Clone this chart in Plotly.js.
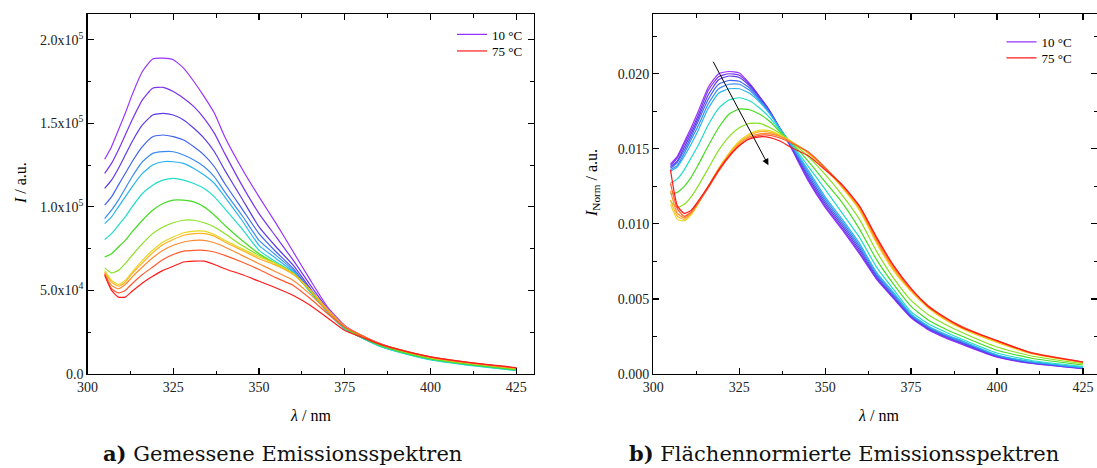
<!DOCTYPE html>
<html>
<head>
<meta charset="utf-8">
<script src="https://cdn.plot.ly/plotly-3.0.1.min.js"></script>
<style>html,body{margin:0;padding:0;background:#fff;}#chart{width:1097px;height:468px;}</style>
</head>
<body>
<div id="chart"></div>
<script>
// ---------- DATA ----------
const wavelength = [305, 307, 309, 311, 313, 316, 319, 322, 325, 328, 331, 334, 337, 340, 345, 350, 355, 360, 365, 370, 375, 380, 385, 390, 400, 410, 425];
const temperatures = [10, 15, 20, 25, 30, 35, 40, 45, 50, 55, 60, 65, 70, 75];

// a) measured emission intensity I (a.u.)
const I_10 = [128500, 136000, 146000, 156000, 167000, 181000, 188500, 189000, 188000, 183000, 175000, 166000, 156000, 142000, 123000, 106000, 90000, 73000, 56000, 40000, 29000, 23000, 18500, 15000, 10000, 6800, 3300];
const I_15 = [120000, 126000, 134000, 143000, 152000, 164000, 171000, 171500, 169000, 165000, 160000, 153000, 144000, 132000, 113000, 96000, 82000, 68000, 53000, 39000, 28000, 22500, 18000, 14500, 9700, 6600, 3200];
const I_20 = [111000, 116000, 123000, 131000, 139000, 149000, 155000, 156000, 155000, 152000, 147000, 141000, 133000, 122000, 105000, 88000, 76000, 65000, 51000, 38000, 27500, 22000, 17500, 14200, 9500, 6400, 3000];
const I_25 = [101000, 106000, 113000, 120000, 127000, 136000, 142000, 143000, 142000, 140000, 136000, 131000, 124000, 114000, 99000, 84000, 73000, 63000, 50000, 37500, 27000, 22000, 17200, 14000, 9200, 6200, 2800];
const I_30 = [93000, 98000, 104000, 111000, 118000, 127000, 132000, 133000, 133000, 131000, 128000, 124000, 118000, 109000, 95000, 80000, 71000, 62000, 49500, 37000, 27000, 21500, 17000, 13800, 9000, 6000, 2600];
const I_35 = [90000, 94000, 100000, 106000, 112000, 120000, 125000, 127000, 127000, 126000, 123000, 119000, 114000, 106000, 92000, 77000, 69000, 61000, 49000, 37000, 27000, 21500, 16800, 13600, 8700, 5800, 2200];
const I_40 = [80500, 84000, 89000, 94000, 100000, 108000, 113000, 116000, 117000, 116000, 114000, 111000, 106000, 99000, 87000, 74000, 67000, 60500, 49000, 37000, 27000, 21500, 16800, 13500, 8400, 5500, 2000];
const I_45 = [70000, 72000, 76000, 80000, 85000, 92000, 98000, 102000, 104000, 104000, 103000, 100000, 95000, 89000, 80000, 72000, 66000, 60000, 49500, 37500, 27500, 22000, 17200, 14000, 9000, 6000, 2500];
const I_50 = [63500, 60500, 62000, 66000, 71000, 78000, 84000, 88000, 90500, 92000, 92000, 90500, 88000, 84000, 77000, 71000, 66000, 60000, 50000, 38000, 28000, 22500, 17800, 14500, 9500, 6500, 3000];
const I_55 = [62000, 56000, 53500, 56000, 61000, 68000, 74000, 79000, 82000, 84500, 85500, 85500, 83500, 80000, 75000, 70000, 66000, 60000, 50000, 38500, 28500, 23000, 18200, 15000, 10000, 7000, 3400];
const I_60 = [61000, 55000, 52500, 55000, 60000, 66500, 72500, 77500, 80500, 83000, 84000, 84000, 82500, 79000, 74000, 69000, 65000, 59500, 50000, 38500, 28500, 23000, 18200, 15000, 10000, 7000, 3400];
const I_65 = [60000, 53000, 51000, 53500, 58000, 64000, 69500, 74000, 77000, 79000, 80000, 80000, 78500, 76000, 71000, 66000, 61000, 56000, 47500, 37500, 28500, 23000, 18200, 15000, 10000, 7000, 3500];
const I_70 = [60000, 51000, 48500, 50000, 54000, 59500, 64000, 68500, 71500, 73500, 74000, 74000, 73000, 71000, 67000, 62500, 57500, 53000, 45000, 36000, 28000, 23000, 18200, 15000, 10200, 7200, 3600];
const I_75 = [59000, 50000, 46000, 46000, 49500, 54500, 58500, 62000, 64500, 67000, 67500, 67500, 65500, 63000, 59500, 55500, 51500, 47000, 41000, 33500, 26000, 22000, 18000, 15000, 10200, 7200, 3800];

// b) area-normalised emission intensity I_Norm (a.u.)
const N_10 = [0.01400, 0.01450, 0.01545, 0.01640, 0.01745, 0.01910, 0.02000, 0.02015, 0.02005, 0.01935, 0.01845, 0.01745, 0.01630, 0.01510, 0.01290, 0.01110, 0.00960, 0.00800, 0.00630, 0.00500, 0.00375, 0.00295, 0.00240, 0.00195, 0.00112, 0.00070, 0.00035];
const N_15 = [0.01390, 0.01440, 0.01530, 0.01620, 0.01720, 0.01890, 0.01980, 0.02000, 0.01990, 0.01930, 0.01845, 0.01750, 0.01630, 0.01515, 0.01300, 0.01120, 0.00970, 0.00810, 0.00635, 0.00505, 0.00380, 0.00300, 0.00245, 0.00200, 0.00115, 0.00072, 0.00037];
const N_20 = [0.01380, 0.01420, 0.01510, 0.01600, 0.01700, 0.01860, 0.01960, 0.01985, 0.01975, 0.01920, 0.01840, 0.01745, 0.01630, 0.01520, 0.01315, 0.01135, 0.00985, 0.00825, 0.00645, 0.00510, 0.00385, 0.00305, 0.00250, 0.00205, 0.00120, 0.00075, 0.00038];
const N_25 = [0.01370, 0.01410, 0.01490, 0.01580, 0.01680, 0.01830, 0.01930, 0.01955, 0.01950, 0.01905, 0.01830, 0.01740, 0.01630, 0.01525, 0.01330, 0.01150, 0.01000, 0.00840, 0.00655, 0.00520, 0.00390, 0.00310, 0.00255, 0.00210, 0.00122, 0.00077, 0.00040];
const N_30 = [0.01360, 0.01390, 0.01470, 0.01560, 0.01650, 0.01800, 0.01900, 0.01930, 0.01930, 0.01890, 0.01820, 0.01735, 0.01630, 0.01530, 0.01345, 0.01165, 0.01015, 0.00855, 0.00665, 0.00530, 0.00395, 0.00315, 0.00260, 0.00215, 0.00125, 0.00080, 0.00042];
const N_35 = [0.01350, 0.01380, 0.01450, 0.01530, 0.01620, 0.01770, 0.01870, 0.01900, 0.01900, 0.01870, 0.01810, 0.01730, 0.01630, 0.01535, 0.01360, 0.01180, 0.01030, 0.00870, 0.00675, 0.00540, 0.00400, 0.00320, 0.00265, 0.00220, 0.00128, 0.00082, 0.00044];
const N_40 = [0.01270, 0.01300, 0.01360, 0.01440, 0.01520, 0.01660, 0.01770, 0.01825, 0.01840, 0.01820, 0.01770, 0.01705, 0.01620, 0.01540, 0.01385, 0.01230, 0.01070, 0.00910, 0.00710, 0.00560, 0.00415, 0.00335, 0.00280, 0.00230, 0.00140, 0.00090, 0.00050];
const N_45 = [0.01200, 0.01210, 0.01250, 0.01310, 0.01390, 0.01520, 0.01640, 0.01730, 0.01765, 0.01760, 0.01730, 0.01680, 0.01610, 0.01545, 0.01420, 0.01280, 0.01140, 0.00965, 0.00760, 0.00595, 0.00450, 0.00360, 0.00300, 0.00250, 0.00158, 0.00105, 0.00060];
const N_50 = [0.01150, 0.01110, 0.01130, 0.01180, 0.01250, 0.01370, 0.01490, 0.01580, 0.01640, 0.01670, 0.01670, 0.01640, 0.01600, 0.01550, 0.01450, 0.01330, 0.01190, 0.01030, 0.00815, 0.00635, 0.00490, 0.00395, 0.00330, 0.00275, 0.00180, 0.00120, 0.00069];
const N_55 = [0.01130, 0.01030, 0.01020, 0.01060, 0.01130, 0.01250, 0.01370, 0.01470, 0.01550, 0.01600, 0.01625, 0.01620, 0.01590, 0.01550, 0.01470, 0.01365, 0.01240, 0.01090, 0.00870, 0.00685, 0.00550, 0.00440, 0.00360, 0.00300, 0.00210, 0.00135, 0.00075];
const N_60 = [0.01160, 0.01050, 0.01030, 0.01070, 0.01135, 0.01250, 0.01365, 0.01465, 0.01540, 0.01590, 0.01615, 0.01610, 0.01585, 0.01550, 0.01475, 0.01370, 0.01245, 0.01100, 0.00880, 0.00695, 0.00555, 0.00445, 0.00365, 0.00305, 0.00215, 0.00138, 0.00077];
const N_65 = [0.01220, 0.01070, 0.01040, 0.01075, 0.01140, 0.01250, 0.01360, 0.01455, 0.01530, 0.01580, 0.01600, 0.01600, 0.01580, 0.01545, 0.01480, 0.01375, 0.01250, 0.01110, 0.00890, 0.00705, 0.00560, 0.00450, 0.00370, 0.00310, 0.00220, 0.00140, 0.00078];
const N_70 = [0.01270, 0.01100, 0.01050, 0.01080, 0.01140, 0.01240, 0.01350, 0.01445, 0.01520, 0.01570, 0.01590, 0.01590, 0.01570, 0.01540, 0.01480, 0.01375, 0.01255, 0.01115, 0.00900, 0.00715, 0.00565, 0.00455, 0.00375, 0.00315, 0.00222, 0.00142, 0.00080];
const N_75 = [0.01360, 0.01120, 0.01070, 0.01090, 0.01150, 0.01250, 0.01360, 0.01450, 0.01520, 0.01565, 0.01580, 0.01575, 0.01550, 0.01510, 0.01455, 0.01360, 0.01260, 0.01120, 0.00910, 0.00720, 0.00570, 0.00450, 0.00375, 0.00308, 0.00222, 0.00140, 0.00080];

const xTickVals = [300, 325, 350, 375, 400, 425];
const xTickText = ['300', '325', '350', '375', '400', '425'];
const yTickValsA = [0, 50000, 100000, 150000, 200000];
const yTickTextA = ['0.0', '5.0x10<sup>4</sup>', '1.0x10<sup>5</sup>', '1.5x10<sup>5</sup>', '2.0x10<sup>5</sup>'];
const yTickValsB = [0, 0.005, 0.010, 0.015, 0.020];
const yTickTextB = ['0.000', '0.005', '0.010', '0.015', '0.020'];
const arrowFrom = [317.2, 0.0209];
const arrowTo = [333.5, 0.0139];

// ---------- BUILD ----------
const measured = [I_10, I_15, I_20, I_25, I_30, I_35, I_40, I_45, I_50, I_55, I_60, I_65, I_70, I_75];
const normalised = [N_10, N_15, N_20, N_25, N_30, N_35, N_40, N_45, N_50, N_55, N_60, N_65, N_70, N_75];
const colors = ['#9933ff', '#7a33ee', '#5c3be8', '#4064f0', '#3a8cf2', '#2ab4f0', '#22dcc8', '#44dd22', '#88e020', '#e6d820', '#ffb020', '#ff8a30', '#ff5a30', '#ff1a1a'];

const last = temperatures.length - 1;
const traces = [];
temperatures.forEach((t, i) => {
  traces.push({
    x: wavelength, y: measured[i], xaxis: 'x', yaxis: 'y', type: 'scatter', mode: 'lines',
    line: {color: colors[i], width: 1.2, shape: 'spline', smoothing: 0.5},
    name: t + ' °C', showlegend: (i === 0 || i === last), legend: (i === last ? 'legend3' : 'legend'), hoverinfo: 'skip'
  });
});
temperatures.forEach((t, i) => {
  traces.push({
    x: wavelength, y: normalised[i], xaxis: 'x2', yaxis: 'y2', type: 'scatter', mode: 'lines',
    line: {color: colors[i], width: 1.2, shape: 'spline', smoothing: 0.5},
    name: t + ' °C', showlegend: (i === 0 || i === last), legend: (i === last ? 'legend4' : 'legend2'), hoverinfo: 'skip'
  });
});

const FONT = 'Liberation Serif';
const axisBase = {
  showline: true, linecolor: '#000', linewidth: 1.3, mirror: 'allticks',
  ticks: 'inside', ticklen: 6, tickwidth: 1.2, tickcolor: '#000',
  showgrid: false, zeroline: false, tickfont: {family: FONT, size: 14, color: '#222'},
  fixedrange: true
};
const minorBase = {ticks: 'inside', ticklen: 3.5, tickwidth: 1, tickcolor: '#000', showgrid: false};

const W = 1097, H = 468, T = 14, B = 94;
const py = p => 1 - (p - T) / (H - T - B);
const legendBase = {xanchor: 'left', yanchor: 'top', bgcolor: 'rgba(0,0,0,0)',
  font: {family: FONT, size: 13, color: '#000'}, itemwidth: 30};

const layout = {
  width: W, height: H,
  margin: {l: 0, r: 0, t: T, b: B, pad: 0},
  paper_bgcolor: '#fff', plot_bgcolor: '#fff',
  font: {family: FONT, size: 14, color: '#000'},
  xaxis: Object.assign({}, axisBase, {domain: [87.5 / W, 533.5 / W], range: [300, 430], anchor: 'y',
    tickmode: 'array', tickvals: xTickVals, ticktext: xTickText,
    minor: Object.assign({tickmode: 'linear', tick0: 300, dtick: 12.5}, minorBase)}),
  yaxis: Object.assign({}, axisBase, {domain: [0, 1], range: [0, 215400], anchor: 'x',
    tickmode: 'array', tickvals: yTickValsA, ticktext: yTickTextA,
    minor: Object.assign({tickmode: 'linear', tick0: 0, dtick: 25000}, minorBase)}),
  xaxis2: Object.assign({}, axisBase, {domain: [653.3 / W, 1], range: [300, 429.1], anchor: 'y2',
    tickmode: 'array', tickvals: xTickVals, ticktext: xTickText,
    minor: Object.assign({tickmode: 'linear', tick0: 300, dtick: 12.5}, minorBase)}),
  yaxis2: Object.assign({}, axisBase, {domain: [0, 1], range: [0, 0.02398], anchor: 'x2',
    tickmode: 'array', tickvals: yTickValsB, ticktext: yTickTextB,
    minor: Object.assign({tickmode: 'linear', tick0: 0, dtick: 0.0025}, minorBase)}),
  legend: Object.assign({x: 452 / W, y: py(19.5)}, legendBase),
  legend3: Object.assign({x: 452 / W, y: py(36)}, legendBase),
  legend2: Object.assign({x: 1001.5 / W, y: py(27)}, legendBase),
  legend4: Object.assign({x: 1001.5 / W, y: py(43)}, legendBase),
  annotations: [
    {xref: 'paper', yref: 'paper', x: 20 / W, y: py(183), text: '<i>I</i> / a.u.', textangle: -90,
      showarrow: false, xanchor: 'center', yanchor: 'middle', font: {family: FONT, size: 16, color: '#000'}},
    {xref: 'paper', yref: 'paper', x: 592 / W, y: py(183), text: '<i>I</i><sub>Norm</sub> / a.u.', textangle: -90,
      showarrow: false, xanchor: 'center', yanchor: 'middle', font: {family: FONT, size: 16, color: '#000'}},
    {xref: 'paper', yref: 'paper', x: 310 / W, y: py(415), text: '<i>λ</i> / nm',
      showarrow: false, xanchor: 'center', yanchor: 'middle', font: {family: FONT, size: 16, color: '#000'}},
    {xref: 'paper', yref: 'paper', x: 878 / W, y: py(415), text: '<i>λ</i> / nm',
      showarrow: false, xanchor: 'center', yanchor: 'middle', font: {family: FONT, size: 16, color: '#000'}},
    {xref: 'paper', yref: 'paper', x: 282 / W, y: py(453), text: '<b>a)</b> Gemessene Emissionsspektren',
      showarrow: false, xanchor: 'center', yanchor: 'middle', font: {family: 'DejaVu Serif', size: 21, color: '#111'}},
    {xref: 'paper', yref: 'paper', x: 844 / W, y: py(453), text: '<b>b)</b> Flächennormierte Emissionsspektren',
      showarrow: false, xanchor: 'center', yanchor: 'middle', font: {family: 'DejaVu Serif', size: 21, color: '#111'}},
    {xref: 'x2', yref: 'y2', axref: 'x2', ayref: 'y2', x: arrowTo[0], y: arrowTo[1], ax: arrowFrom[0], ay: arrowFrom[1],
      text: '', showarrow: true, arrowhead: 2, arrowsize: 1.3, arrowwidth: 1, arrowcolor: '#000'}
  ]
};

Plotly.newPlot('chart', traces, layout, {displayModeBar: false, staticPlot: true});
</script>
</body>
</html>
